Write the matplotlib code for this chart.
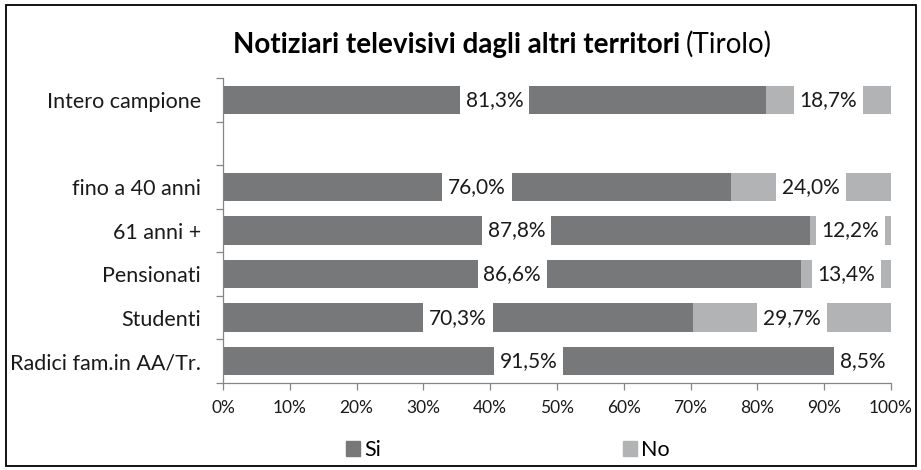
import matplotlib
matplotlib.use("Agg")
import matplotlib.pyplot as plt
from matplotlib.patches import Rectangle, Patch

plt.rcParams["font.family"] = ["Lato", "DejaVu Sans"]

# ── Data (top to bottom; empty string = spacer row)
categories = ["Intero campione", "", "fino a 40 anni", "61 anni +",
              "Pensionati", "Studenti", "Radici fam.in AA/Tr."]
si_values = [81.3, None, 76.0, 87.8, 86.6, 70.3, 91.5]
no_values = [18.7, None, 24.0, 12.2, 13.4, 29.7, 8.5]
series_names = ["Si", "No"]
xticks = [0, 10, 20, 30, 40, 50, 60, 70, 80, 90, 100]

SI_COLOR = "#76787a"
NO_COLOR = "#b1b3b4"
AXIS_COLOR = "#868686"
TEXT_COLOR = "#1a1a1a"
W, H = 921, 470

fig = plt.figure(figsize=(W / 100, H / 100), dpi=100)
fig.patches.append(Rectangle((5.5 / W, 4.5 / H), 910 / W, 461 / H,
                             transform=fig.transFigure, fill=False,
                             edgecolor="black", linewidth=1.3))

ax = fig.add_axes([223 / W, 1 - 383 / H, 668 / W, 305 / H])

ypos = list(range(len(categories)))
for y, si, no in zip(ypos, si_values, no_values):
    if si is None:
        continue
    ax.barh(y, si, left=0, height=0.65, color=SI_COLOR, edgecolor="none")
    ax.barh(y, no, left=si, height=0.65, color=NO_COLOR, edgecolor="none")
    for left, val in ((0, si), (si, no)):
        ax.text(left + val / 2, y, f"{val:.1f}%".replace(".", ","),
                ha="center", va="center", fontsize=15, color=TEXT_COLOR,
                bbox=dict(boxstyle="square,pad=0.28", fc="white", ec="none"))

ax.set_xlim(0, 100)
ax.set_ylim(len(categories) - 0.5, -0.5)
ax.set_xticks(xticks)
ax.set_xticklabels([f"{t}%" for t in xticks], fontsize=12.5, color=TEXT_COLOR)
ax.set_yticks(ypos)
ax.set_yticklabels(categories, fontsize=15.5, color=TEXT_COLOR)
ax.set_yticks([y - 0.5 for y in ypos] + [len(categories) - 0.5], minor=True)
ax.tick_params(axis="y", which="major", length=0, pad=16)
ax.tick_params(axis="y", which="minor", length=5, color=AXIS_COLOR, width=0.9)
ax.tick_params(axis="x", length=5, color=AXIS_COLOR, width=0.9, pad=7)
for side in ("top", "right"):
    ax.spines[side].set_visible(False)
for side in ("left", "bottom"):
    ax.spines[side].set_color(AXIS_COLOR)
    ax.spines[side].set_linewidth(0.9)

# title: bold part + normal part
t1 = fig.text(233 / W, 1 - 53 / H, "Notiziari televisivi dagli altri territori",
              fontsize=20, fontweight="bold", ha="left", va="baseline",
              color="black")
fig.canvas.draw()
bb = t1.get_window_extent()
fig.text((bb.x1 + 6) / W, 1 - 53 / H, "(Tirolo)", fontsize=20,
         ha="left", va="baseline", color="black")

handles = [Patch(color=SI_COLOR), Patch(color=NO_COLOR)]
fig.legend(handles, series_names, loc="center", bbox_to_anchor=(508 / W, 1 - 450 / H),
           ncol=2, frameon=False, fontsize=15.5, handlelength=0.65, handleheight=0.65,
           handletextpad=0.2, columnspacing=11.2, borderpad=0)

fig.savefig("out.png", dpi=100)
